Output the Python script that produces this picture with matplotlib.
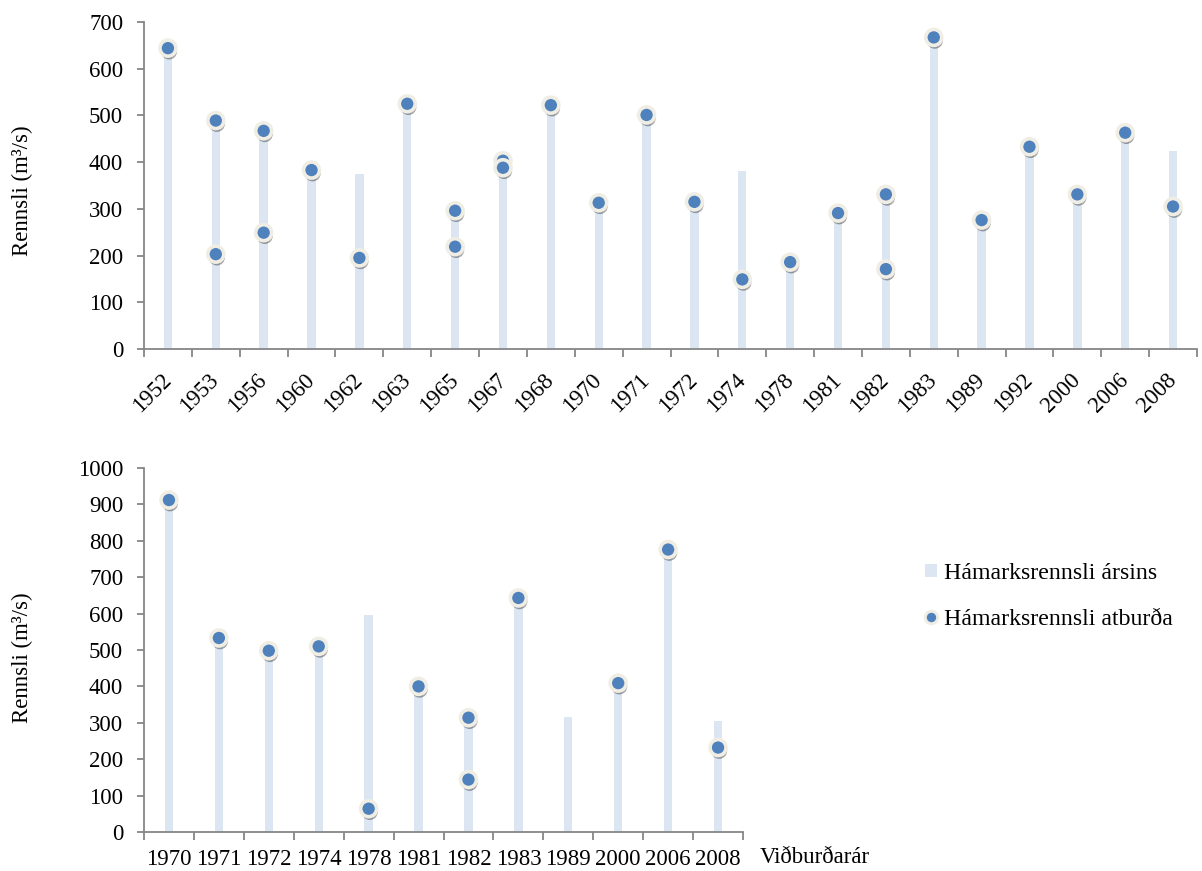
import matplotlib
matplotlib.use("Agg")
import matplotlib.pyplot as plt
import matplotlib.patheffects as pe
from matplotlib.patches import Patch
from matplotlib.lines import Line2D

plt.rcParams['font.family'] = ['Liberation Serif', 'DejaVu Serif']

# ---- top chart data ----
top_years = ['1952', '1953', '1956', '1960', '1962', '1963', '1965', '1967', '1968', '1970', '1971',
             '1972', '1974', '1978', '1981', '1982', '1983', '1989', '1992', '2000', '2006', '2008']
top_annual = [644, 489, 467, 383, 375, 525, 296, 398, 522, 313, 501,
              315, 382, 186, 291, 331, 667, 276, 433, 331, 463, 424]
top_event_years = ['1952', '1953', '1953', '1956', '1956', '1960', '1962', '1963', '1965', '1965',
                   '1967', '1967', '1968', '1970', '1971', '1972', '1974', '1978', '1981', '1982',
                   '1982', '1983', '1989', '1992', '2000', '2006', '2008']
top_event_flow = [644, 489, 203, 467, 249, 383, 195, 525, 296, 219,
                  403, 388, 522, 313, 501, 315, 149, 186, 291, 331,
                  171, 667, 276, 433, 331, 463, 305]

# ---- bottom chart data ----
bot_years = ['1970', '1971', '1972', '1974', '1978', '1981', '1982', '1983', '1989', '2000', '2006', '2008']
bot_annual = [912, 533, 498, 510, 597, 400, 314, 643, 315, 409, 776, 304]
bot_event_years = ['1970', '1971', '1972', '1974', '1978', '1981', '1982', '1982', '1983', '2000', '2006', '2008']
bot_event_flow = [912, 533, 498, 510, 64, 400, 314, 144, 643, 409, 776, 232]

bar_color = '#dce6f2'
dot_color = '#4f81bd'
ring_color = '#f0eee4'
axis_color = '#868686'
fs = 16.5

fig = plt.figure(figsize=(12.02, 8.71), dpi=100)
ax1 = fig.add_axes([144 / 1202, 1 - 349 / 871, (1197 - 144) / 1202, (349 - 22) / 871])
ax2 = fig.add_axes([144 / 1202, 1 - 832 / 871, (743 - 144) / 1202, (832 - 468) / 871])

shadow = [pe.SimplePatchShadow(offset=(0.8, -2.4), shadow_rgbFace='black', alpha=0.35), pe.Normal()]


def draw(ax, years, annual, ev_years, ev_flow, ymax, width):
    xs = list(range(len(years)))
    ax.bar(xs, annual, width=width, color=bar_color, zorder=1)
    ev_x = [years.index(y) for y in ev_years]
    ax.plot(ev_x, ev_flow, linestyle='none', marker='o', markersize=11.5,
            markerfacecolor=dot_color, markeredgecolor=ring_color, markeredgewidth=2.6,
            zorder=3, path_effects=shadow)
    ax.set_xlim(-0.5, len(years) - 0.5)
    ax.set_ylim(0, ymax)
    ax.set_yticks(range(0, ymax + 1, 100))
    ax.set_xticks(xs)
    ax.set_xticks([x - 0.5 for x in range(len(years) + 1)], minor=True)
    ax.tick_params(axis='x', which='major', length=0)
    ax.tick_params(axis='x', which='minor', length=6, width=1.3, color=axis_color)
    ax.tick_params(axis='y', length=5, width=1.3, color=axis_color, pad=10, labelsize=fs)
    for s in ['top', 'right']:
        ax.spines[s].set_visible(False)
    for s in ['left', 'bottom']:
        ax.spines[s].set_color(axis_color)
        ax.spines[s].set_linewidth(1.3)
    ax.set_ylabel('Rennsli (m³/s)', fontsize=fs)


draw(ax1, top_years, top_annual, top_event_years, top_event_flow, 700, 0.175)
draw(ax2, bot_years, bot_annual, bot_event_years, bot_event_flow, 1000, 0.167)

ax1.set_xticklabels(top_years, rotation=45, ha='right', va='center', rotation_mode='anchor', fontsize=fs)
ax1.tick_params(axis='x', which='major', pad=20)

ax2.set_xticklabels(bot_years, fontsize=fs)
ax2.tick_params(axis='x', which='major', pad=12)
fig.text(760 / 1202, 1 - 857 / 871, 'Viðburðarár', fontsize=fs, va='center', ha='left')

ax1.yaxis.set_label_coords(-111 / 1053, 0.485)
ax2.yaxis.set_label_coords(-111 / 599, 0.48)

handles = [Patch(facecolor=bar_color, edgecolor='none'),
           Line2D([], [], linestyle='none', marker='o', markersize=9,
                  markerfacecolor=dot_color, markeredgecolor=ring_color, markeredgewidth=2.2)]
fig.legend(handles, ['Hámarksrennsli ársins', 'Hámarksrennsli atburða'],
           loc='upper left', bbox_to_anchor=(925 / 1202, 1 - 563 / 871), frameon=False,
           fontsize=17.2, handlelength=0.5, handleheight=0.5, handletextpad=0.3,
           labelspacing=1.05, borderpad=0, borderaxespad=0)

fig.savefig('out.png', dpi=100)
